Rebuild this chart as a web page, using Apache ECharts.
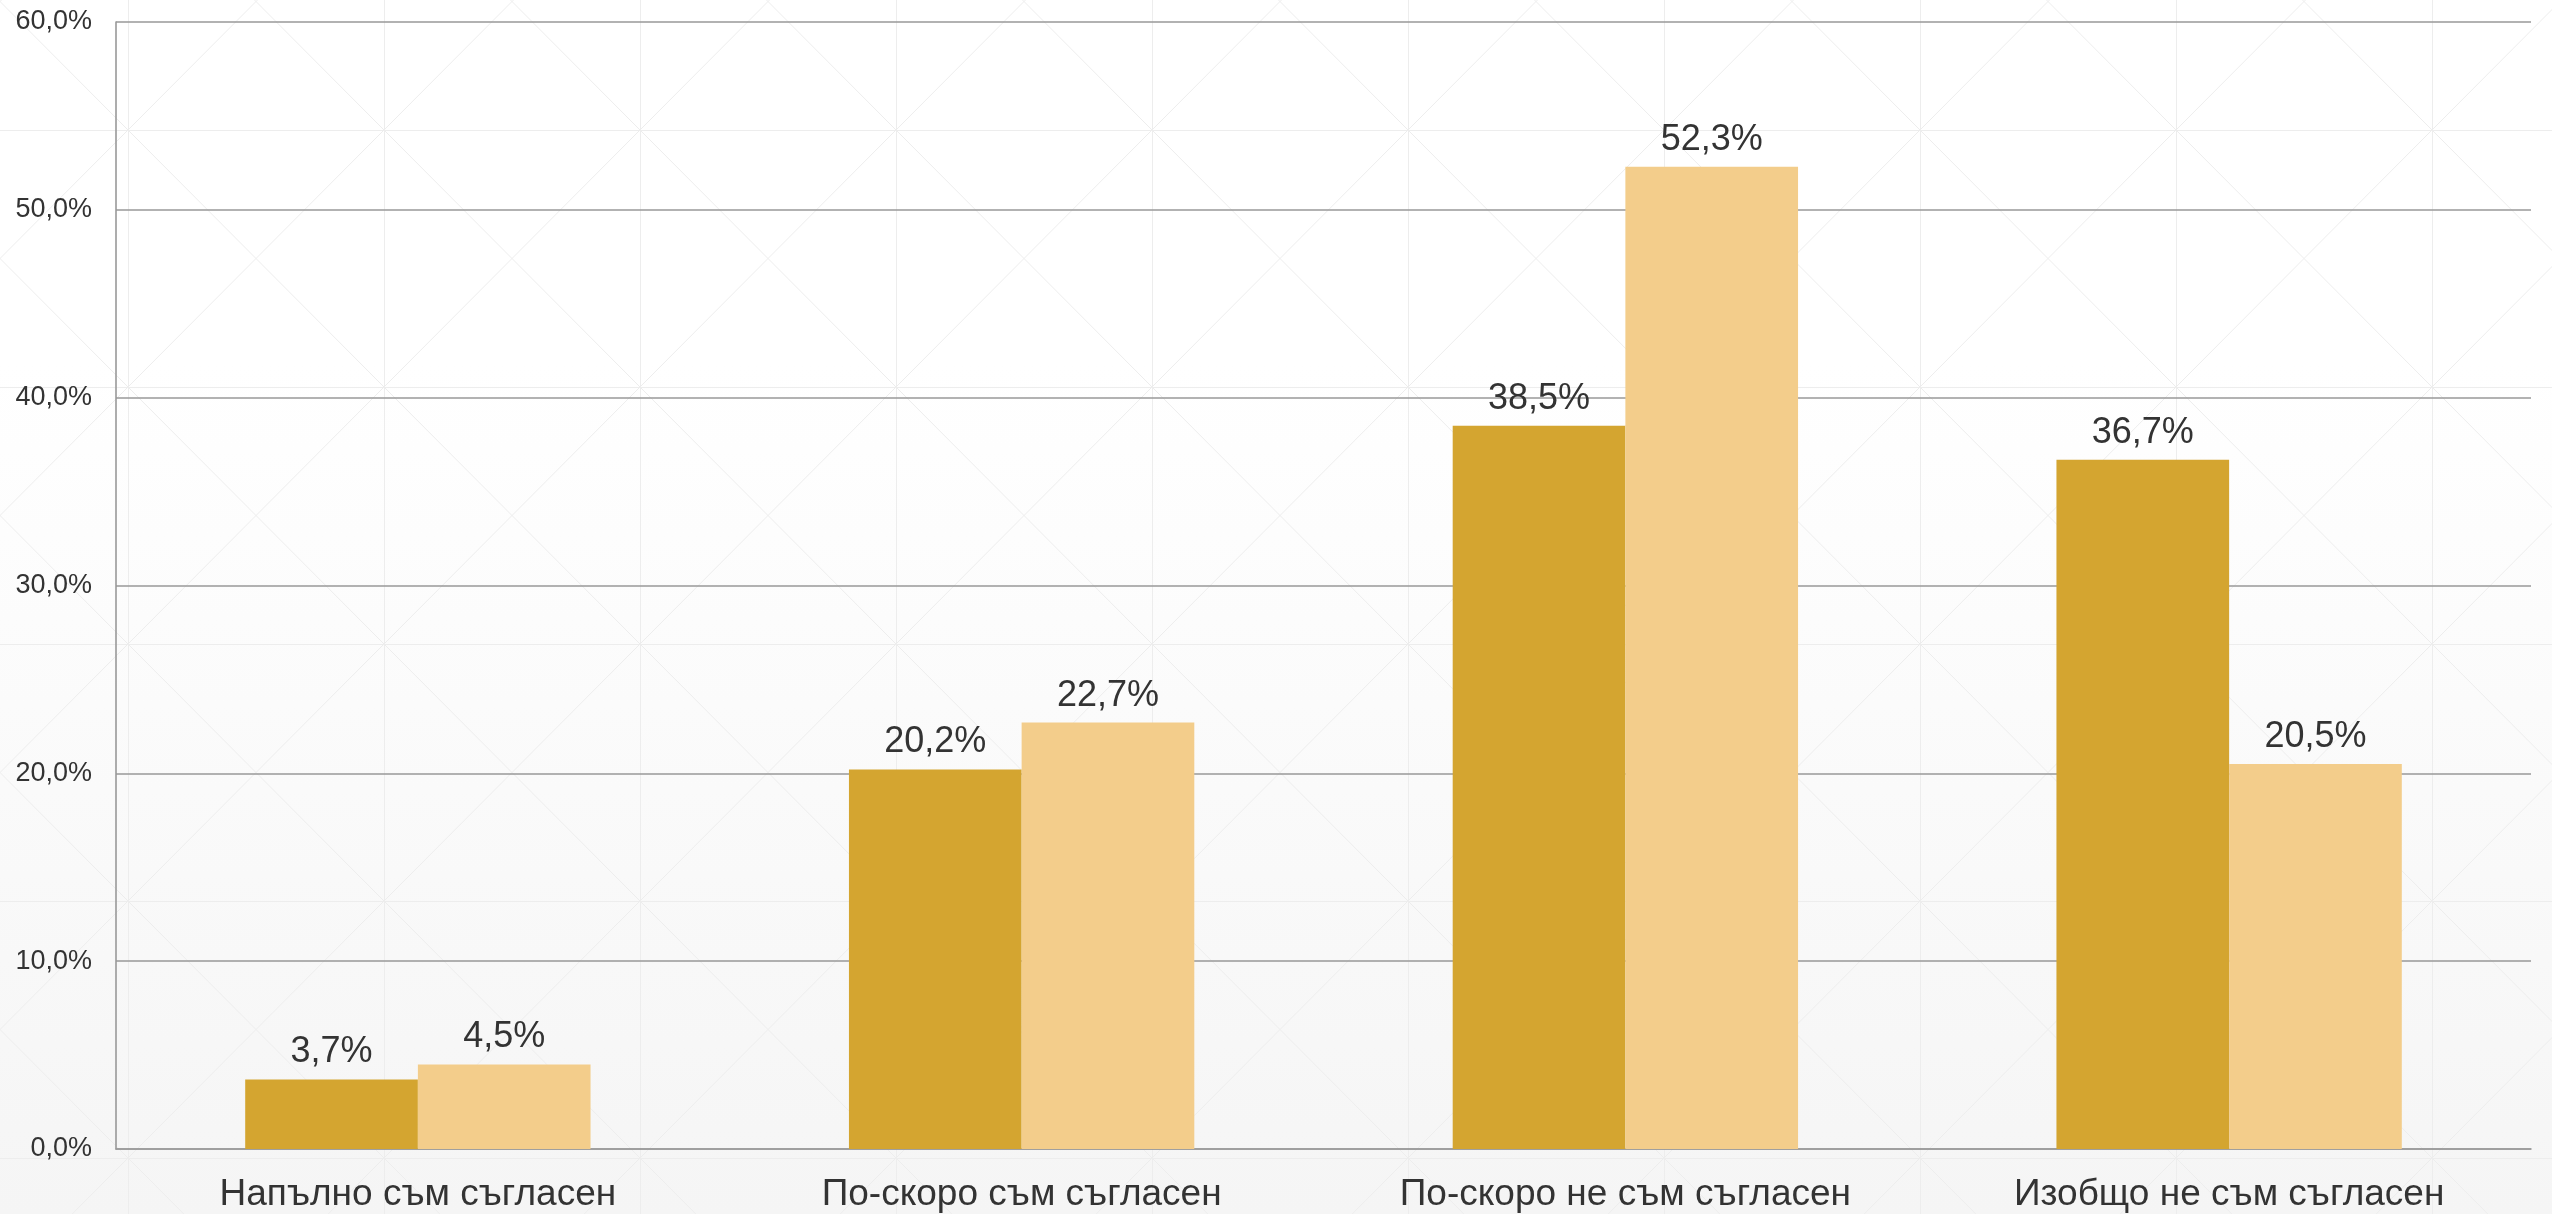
<!DOCTYPE html>
<html>
<head>
<meta charset="utf-8">
<script src="https://cdn.jsdelivr.net/npm/echarts@6/dist/echarts.min.js"></script>
<style>
  html, body { margin: 0; padding: 0; width: 2552px; height: 1214px; overflow: hidden; }
  body {
    background-image:
      url("data:image/svg+xml;utf8,<svg xmlns='http://www.w3.org/2000/svg' width='256' height='257'><g stroke='%23ededed' stroke-width='1' fill='none'><line x1='0.5' y1='0' x2='0.5' y2='257'/><line x1='0' y1='0.5' x2='256' y2='0.5'/><line x1='0' y1='0' x2='256' y2='257'/><line x1='256' y1='0' x2='0' y2='257'/></g></svg>"),
      linear-gradient(to bottom, #ffffff 0%, #ffffff 30%, #f5f5f5 100%);
    background-position: 128px 130px, 0 0;
    background-repeat: repeat, no-repeat;
    background-size: auto, 100% 100%;
  }
  #chart { width: 2552px; height: 1214px; }
</style>
</head>
<body>
<div id="chart"></div>
<script>
const categories = ['Напълно съм съгласен', 'По-скоро съм съгласен', 'По-скоро не съм съгласен', 'Изобщо не съм съгласен'];
const seriesA = [3.7, 20.2, 38.5, 36.7];
const seriesB = [4.5, 22.7, 52.3, 20.5];
const yTicks = { min: 0, max: 60, interval: 10 };

const fmt = v => v.toFixed(1).replace('.', ',') + '%';
const FONT = "'Liberation Sans', Arial, sans-serif";

const chart = echarts.init(document.getElementById('chart'), null, { renderer: 'canvas' });
chart.setOption({
  backgroundColor: 'transparent',
  animation: false,
  grid: { left: 116, right: 21, top: 22, bottom: 65, containLabel: false },
  xAxis: {
    type: 'category',
    data: categories,
    axisLine: { show: true, lineStyle: { color: '#999', width: 1.6 } },
    axisTick: { show: false },
    axisLabel: { color: '#333', fontSize: 37, fontFamily: FONT, margin: 27, interval: 0 },
    splitLine: { show: false }
  },
  yAxis: {
    type: 'value',
    min: yTicks.min, max: yTicks.max, interval: yTicks.interval,
    axisLine: { show: true, lineStyle: { color: '#999', width: 1.6 } },
    axisTick: { show: false },
    axisLabel: { color: '#333', fontSize: 27, fontFamily: FONT, margin: 24, formatter: v => fmt(v) },
    splitLine: { show: true, lineStyle: { color: '#999', width: 1.6 } }
  },
  series: [
    {
      name: 'A', type: 'bar', data: seriesA,
      barGap: '0%', barCategoryGap: '42.8%',
      itemStyle: { color: '#D4A530' },
      label: { show: true, position: 'top', distance: 9, color: '#333', fontSize: 36, fontFamily: FONT, formatter: p => fmt(p.value) }
    },
    {
      name: 'B', type: 'bar', data: seriesB,
      barGap: '0%', barCategoryGap: '42.8%',
      itemStyle: { color: '#F3CD8B' },
      label: { show: true, position: 'top', distance: 9, color: '#333', fontSize: 36, fontFamily: FONT, formatter: p => fmt(p.value) }
    }
  ]
});
</script>
</body>
</html>
